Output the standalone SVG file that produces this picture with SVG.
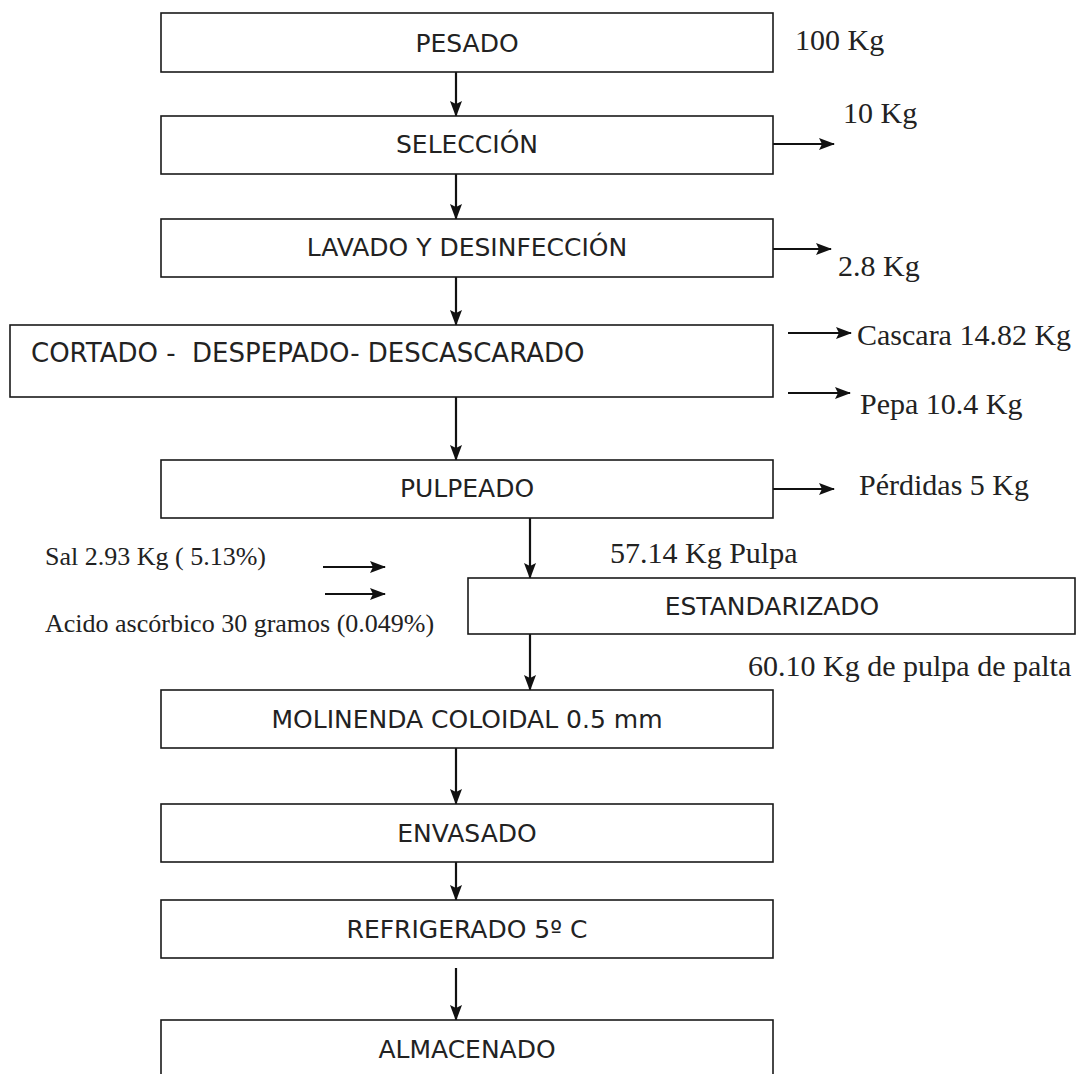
<svg xmlns="http://www.w3.org/2000/svg" width="1089" height="1074" viewBox="0 0 1089 1074">
<style>
.box{fill:#fff;stroke:#1a1a1a;stroke-width:1.6}
.bt{font-family:"DejaVu Sans",Verdana,sans-serif;font-size:25px;fill:#222;text-anchor:middle}
.lt{font-family:"DejaVu Sans",Verdana,sans-serif;font-size:26px;fill:#222}
.sr{font-family:"Liberation Serif","Times New Roman",serif;font-size:30px;fill:#222}
.ss{font-family:"Liberation Serif","Times New Roman",serif;font-size:26px;fill:#222}
.c{stroke:#111;stroke-width:2.2;fill:none;marker-end:url(#ah)}
</style>
<defs>
<marker id="ah" markerUnits="userSpaceOnUse" markerWidth="16" markerHeight="13" viewBox="0 0 16 12" refX="15" refY="6" orient="auto">
<path d="M0,0 L16,6 L0,12 L3,6 Z" fill="#111"/>
</marker>
</defs>
<rect width="1089" height="1074" fill="#fff"/>
<g id="connectors">
<line class="c" x1="456" y1="72" x2="456" y2="116"/>
<line class="c" x1="773" y1="144" x2="834" y2="144"/>
<line class="c" x1="456" y1="174" x2="456" y2="219"/>
<line class="c" x1="773" y1="249" x2="831" y2="249"/>
<line class="c" x1="456" y1="277" x2="456" y2="325"/>
<line class="c" x1="788" y1="333" x2="851" y2="333"/>
<line class="c" x1="788" y1="393" x2="850" y2="393"/>
<line class="c" x1="456" y1="397" x2="456" y2="460"/>
<line class="c" x1="773" y1="489" x2="834" y2="489"/>
<line class="c" x1="530" y1="518" x2="530" y2="578"/>
<line class="c" x1="323" y1="567" x2="385" y2="567"/>
<line class="c" x1="325" y1="594" x2="385" y2="594"/>
<line class="c" x1="530" y1="634" x2="530" y2="690"/>
<line class="c" x1="456" y1="748" x2="456" y2="804"/>
<line class="c" x1="456" y1="862" x2="456" y2="900"/>
<line class="c" x1="456" y1="968" x2="456" y2="1020"/>
</g>
<g id="n-pesado"><rect class="box" x="161" y="13" width="612" height="59"/><text class="bt" x="467" y="52">PESADO</text></g>
<g id="n-seleccion"><rect class="box" x="161" y="116" width="612" height="58"/><text class="bt" x="467" y="153">SELECCIÓN</text></g>
<g id="n-lavado"><rect class="box" x="161" y="219" width="612" height="58"/><text class="bt" x="467" y="256">LAVADO Y DESINFECCIÓN</text></g>
<g id="n-cortado"><rect class="box" x="10" y="325" width="763" height="72"/><text class="lt" x="31" y="362" xml:space="preserve">CORTADO -  DESPEPADO- DESCASCARADO</text></g>
<g id="n-pulpeado"><rect class="box" x="161" y="460" width="612" height="58"/><text class="bt" x="467" y="497">PULPEADO</text></g>
<g id="n-estandarizado"><rect class="box" x="468" y="578" width="607" height="56"/><text class="bt" x="772" y="615">ESTANDARIZADO</text></g>
<g id="n-molinenda"><rect class="box" x="161" y="690" width="612" height="58"/><text class="bt" x="467" y="728">MOLINENDA COLOIDAL 0.5 mm</text></g>
<g id="n-envasado"><rect class="box" x="161" y="804" width="612" height="58"/><text class="bt" x="467" y="842">ENVASADO</text></g>
<g id="n-refrigerado"><rect class="box" x="161" y="900" width="612" height="58"/><text class="bt" x="467" y="938">REFRIGERADO 5º C</text></g>
<g id="n-almacenado"><rect class="box" x="161" y="1020" width="612" height="70"/><text class="bt" x="467" y="1058">ALMACENADO</text></g>
<g id="labels">
<text class="sr" x="795" y="50">100 Kg</text>
<text class="sr" x="843" y="123">10 Kg</text>
<text class="sr" x="838" y="276">2.8 Kg</text>
<text class="sr" x="857" y="345">Cascara 14.82 Kg</text>
<text class="sr" x="860" y="414">Pepa 10.4 Kg</text>
<text class="sr" x="859" y="495">Pérdidas 5 Kg</text>
<text class="sr" x="610" y="563">57.14 Kg Pulpa</text>
<text class="sr" x="748" y="676">60.10 Kg de pulpa de palta</text>
<text class="ss" x="45" y="565" xml:space="preserve">Sal 2.93 Kg ( 5.13%)</text>
<text class="ss" x="45" y="632">Acido ascórbico 30 gramos (0.049%)</text>
</g>
</svg>
